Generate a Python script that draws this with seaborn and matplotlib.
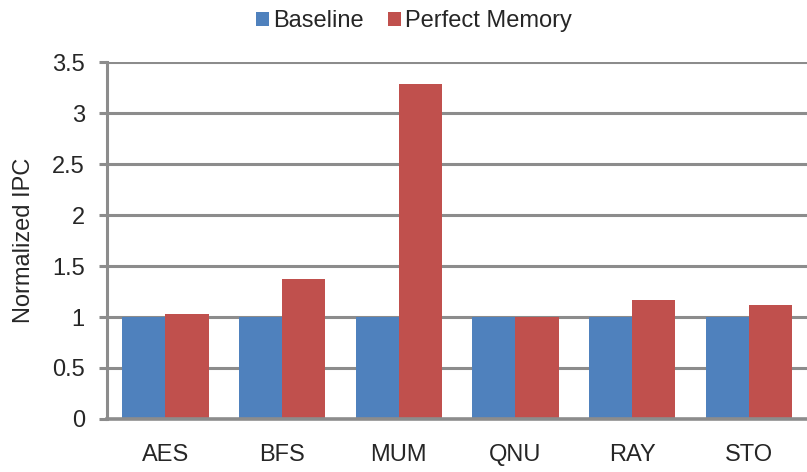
import matplotlib
matplotlib.use("Agg")
import matplotlib.pyplot as plt
import seaborn as sns
import pandas as pd

benchmarks = ["AES", "BFS", "MUM", "QNU", "RAY", "STO"]
baseline = [1.0, 1.0, 1.0, 1.0, 1.0, 1.0]
perfect_memory = [1.03, 1.37, 3.28, 1.0, 1.17, 1.12]
series_names = ["Baseline", "Perfect Memory"]
y_ticks = [0, 0.5, 1, 1.5, 2, 2.5, 3, 3.5]
y_tick_labels = ["0", "0.5", "1", "1.5", "2", "2.5", "3", "3.5"]

df = pd.DataFrame({
    "Benchmark": benchmarks * 2,
    "Series": [series_names[0]] * len(benchmarks) + [series_names[1]] * len(benchmarks),
    "IPC": baseline + perfect_memory,
})

sns.set_theme(style="white")
plt.rcParams["font.family"] = ["Liberation Sans", "DejaVu Sans"]

fig = plt.figure(figsize=(8.07, 4.72), dpi=100)
ax = fig.add_axes([0.1326, 0.1123, 0.8674, 0.7563])

grid_color = "#8c8c8c"
ax.set_ylim(0, 3.5)
ax.set_yticks(y_ticks)
ax.set_yticklabels(y_tick_labels)
for t in y_ticks[1:]:
    ax.axhline(t, color=grid_color, lw=2.2, zorder=0)

sns.barplot(data=df, x="Benchmark", y="IPC", hue="Series",
            palette=["#4f81bd", "#c0504d"], saturation=1, width=0.74,
            edgecolor="none", ax=ax, legend=True, zorder=2)

ax.set_xlim(-0.5, 5.5)
ax.set_xlabel("")
ax.set_ylabel("Normalized IPC", fontsize=17, labelpad=12)

for side in ["top", "right"]:
    ax.spines[side].set_visible(False)
ax.spines["left"].set_color(grid_color)
ax.spines["left"].set_linewidth(2.2)
ax.spines["bottom"].set_color(grid_color)
ax.spines["bottom"].set_linewidth(2.6)
ax.spines["bottom"].set_zorder(3)

ax.tick_params(axis="y", which="both", left=True, length=6, width=2.2,
               color=grid_color, labelsize=17, pad=10)
ax.tick_params(axis="x", bottom=False, labelsize=17, pad=12)

handles, labels = ax.get_legend_handles_labels()
ax.get_legend().remove()
fig.legend(handles, labels, loc="center", bbox_to_anchor=(0.513, 0.955),
           ncol=2, frameon=False, fontsize=17, handlelength=0.55,
           handleheight=0.55, handletextpad=0.2, columnspacing=1.0)

fig.savefig("out.png", dpi=100)
